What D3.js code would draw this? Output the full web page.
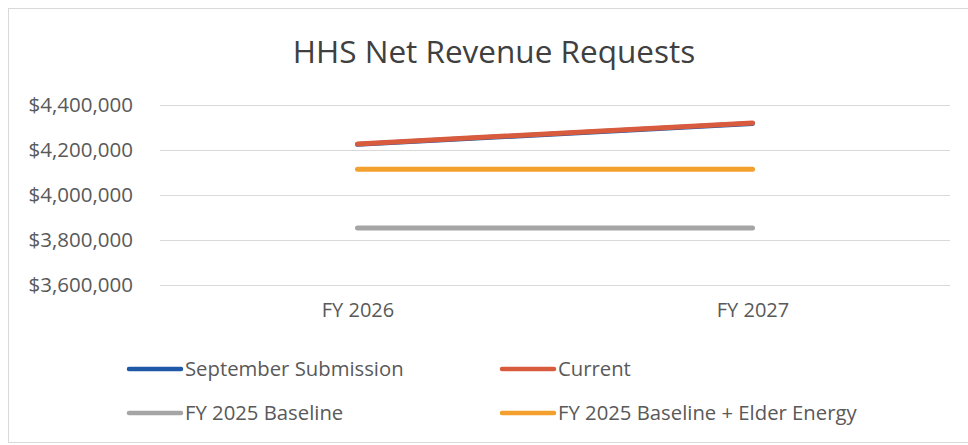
<!DOCTYPE html>
<html><head><meta charset="utf-8">
<script src="https://cdn.jsdelivr.net/npm/d3@7"></script>
<style>body{margin:0;background:#fff}svg{display:block}text{font-family:"Open Sans","Noto Sans",sans-serif;fill:#595959}</style>
</head><body>
<svg id="c" width="968" height="445"></svg>
<script>
const categories = ["FY 2026", "FY 2027"];
const seriesNames = ["September Submission", "Current", "FY 2025 Baseline", "FY 2025 Baseline + Elder Energy"];
const septemberSubmission = [4225000, 4318000];
const current = [4227000, 4320000];
const fy2025Baseline = [3853000, 3853000];
const fy2025BaselineElder = [4115000, 4115000];
const yTicks = [3600000, 3800000, 4000000, 4200000, 4400000];
const colors = ["#1F58A6", "#D95B3E", "#A5A5A5", "#F4A02E"];

const svg = d3.select("#c");
svg.append("rect").attr("x", 8.5).attr("y", 8.5).attr("width", 962).attr("height", 434)
  .attr("fill", "#fff").attr("stroke", "#d9d9d9");

svg.append("text").attr("x", 494).attr("y", 63).attr("text-anchor", "middle")
  .style("font-size", "31.5px").style("fill", "#404040").text("HHS Net Revenue Requests");

const x = d3.scalePoint().domain(categories).range([160, 950]).padding(0.5);
const y = d3.scaleLinear().domain([3600000, 4400000]).range([285, 105]);

svg.append("g").selectAll("line").data(yTicks).join("line")
  .attr("x1", 160).attr("x2", 950).attr("y1", d => y(d) + 0.5).attr("y2", d => y(d) + 0.5)
  .attr("stroke", "#d9d9d9").attr("stroke-width", 1);

const yAxis = d3.axisLeft(y).tickValues(yTicks).tickSize(0).tickPadding(0)
  .tickFormat(d => "$" + d3.format(",")(d));
const ga = svg.append("g").attr("transform", "translate(133,0)").call(yAxis);
ga.select(".domain").remove();
ga.selectAll("text").style("font-size", "20.5px").style("fill", "#595959").attr("font-family", null);

const xAxis = d3.axisBottom(x).tickSize(0).tickPadding(0);
const gx = svg.append("g").attr("transform", "translate(0,303)").call(xAxis);
gx.select(".domain").remove();
gx.selectAll("text").style("font-size", "20px").style("fill", "#595959").attr("font-family", null);

const data = [septemberSubmission, current, fy2025Baseline, fy2025BaselineElder];
const line = d3.line().x((d, i) => x(categories[i])).y(d => y(d));
const order = [2, 3, 0, 1];
order.forEach(k => {
  svg.append("path").datum(data[k]).attr("d", line).attr("fill", "none")
    .attr("stroke", colors[k]).attr("stroke-width", 5).attr("stroke-linecap", "round");
});

const legendPos = [[127, 369], [500, 369], [127, 413], [500, 413]];
seriesNames.forEach((n, k) => {
  const [lx, ly] = legendPos[k];
  svg.append("line").attr("x1", lx + 2).attr("x2", lx + 54).attr("y1", ly).attr("y2", ly)
    .attr("stroke", colors[k]).attr("stroke-width", 4.5).attr("stroke-linecap", "round");
  svg.append("text").attr("x", lx + 58).attr("y", ly).attr("dy", "0.35em")
    .style("font-size", "20.3px").text(n);
});
</script>
</body></html>
